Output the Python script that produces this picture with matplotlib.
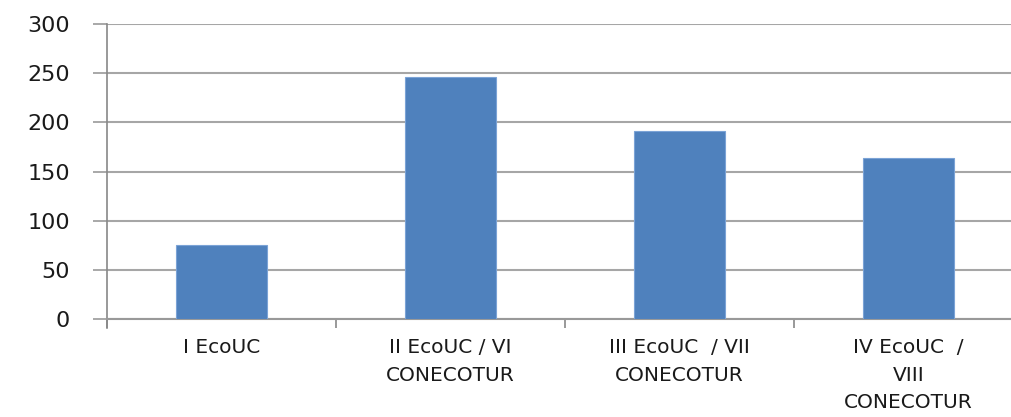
import numpy as np
import matplotlib
matplotlib.use('Agg')
import matplotlib.pyplot as plt

# data
categories = ['I EcoUC',
              'II EcoUC / VI\nCONECOTUR',
              'III EcoUC  / VII\nCONECOTUR',
              'IV EcoUC  /\nVIII\nCONECOTUR']
values = [75, 246, 191, 164]
yticks = [0, 50, 100, 150, 200, 250, 300]

plt.rcParams['font.family'] = ['DejaVu Sans']

fig = plt.figure(figsize=(10.11, 4.17), dpi=100)
# axes runs a little past the right edge of the picture, as in the original
ax = fig.add_axes([107/1011, 98/417, 916/1011, 295/417])

x = np.arange(len(categories))
ax.bar(x, values, width=0.4, color='#4F81BD', edgecolor='#7BA3D6', linewidth=0.8, zorder=3)

ax.set_xlim(-0.5, len(categories) - 0.5)
ax.set_ylim(0, 300)
ax.set_yticks(yticks)
ax.set_yticklabels([str(t) for t in yticks], fontsize=16, color='#1a1a1a')

# category ticks sit between the bars
ax.set_xticks(np.arange(len(categories) + 1) - 0.5)
ax.set_xticklabels([])
ax.set_xticks(x, minor=True)
ax.set_xticklabels(categories, minor=True, fontsize=14.5, color='#1a1a1a',
                   linespacing=1.55)
ax.tick_params(axis='x', which='major', length=6.5, color='#888888', width=1.2)
ax.tick_params(axis='x', which='minor', length=0, pad=14)
ax.tick_params(axis='y', length=10, color='#999999', width=1.2, pad=16.5)

ax.yaxis.grid(True, color='#A6A6A6', linewidth=1.5, zorder=0)
ax.set_axisbelow(True)
for s in ['top', 'right']:
    ax.spines[s].set_visible(False)
ax.spines['left'].set_color('#888888')
ax.spines['left'].set_linewidth(1.2)
ax.spines['left'].set_bounds(-9.2, 300)
ax.spines['bottom'].set_color('#999999')
ax.spines['bottom'].set_linewidth(1.5)

fig.savefig('out.png', dpi=100)
